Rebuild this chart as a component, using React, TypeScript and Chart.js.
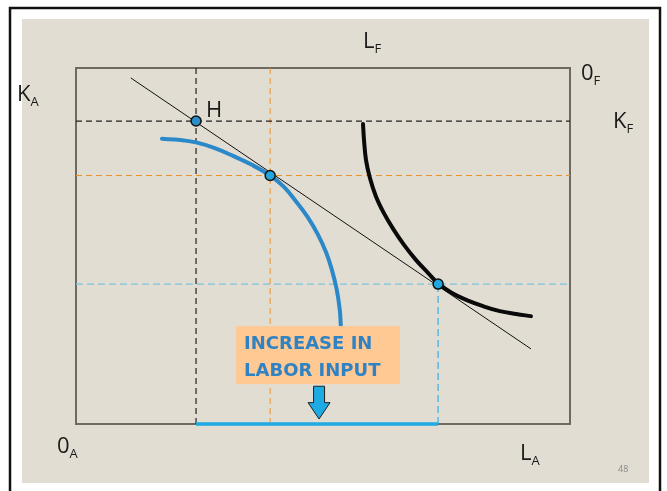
import React, { useEffect, useRef } from "react";
import { Chart, registerables } from "chart.js";

Chart.register(...registerables);

// ---- data (axis units 0..100) ----
const AXIS_MIN = 0;
const AXIS_MAX = 100;

const tangentX = [11.1, 92.1];
const tangentY = [97.2, 21.1];

const blueCurveX = [17.4, 21.1, 24.3, 28.1, 31.8, 35.6, 39.3, 42.1, 44.5, 46.9, 48.9, 50.6, 51.8, 52.8, 53.4, 53.6];
const blueCurveY = [80.1, 79.8, 79.1, 77.5, 75.3, 72.8, 69.8, 66.6, 62.6, 58.1, 53.4, 48.3, 43.3, 37.6, 32.0, 27.8];

const blackCurveX = [58.1, 58.3, 58.7, 59.5, 60.7, 62.3, 64.2, 66.4, 68.8, 71.3, 73.3, 76.1, 79.1, 82.4, 85.8, 89.1, 92.1];
const blackCurveY = [84.3, 79.8, 74.2, 69.1, 64.0, 59.3, 54.8, 50.3, 46.1, 42.4, 39.5, 36.8, 34.8, 33.1, 31.7, 30.9, 30.3];

const pointX = [24.3, 39.3, 73.3];
const pointY = [85.1, 69.8, 39.3];
const pointNames = ["H", "", ""];

const cornerMain = ["L", "0", "K", "K", "0", "L"];
const cornerSub = ["F", "F", "A", "F", "A", "A"];

const calloutLines = ["INCREASE IN", "LABOR INPUT"];
const pageNumber = "48";

// annotation anchors in axis units
const calloutBoxX = [32.4, 65.6];
const calloutBoxY = [27.5, 11.2];
const arrowX = [49.2];
const arrowY = [10.6, 1.4];

const pts = (xs: number[], ys: number[]) => xs.map((x, i) => ({ x, y: ys[i] }));

export default function App() {
  const ref = useRef<HTMLCanvasElement | null>(null);

  useEffect(() => {
    if (!ref.current) return;
    const FONT = '"Open Sans", "DejaVu Sans", sans-serif';

    const bgPlugin = {
      id: "bg",
      beforeDraw(chart: any) {
        const ctx = chart.ctx;
        ctx.save();
        ctx.fillStyle = "#ffffff";
        ctx.fillRect(0, 0, chart.width, chart.height);
        ctx.fillStyle = "#e2ddd2";
        ctx.fillRect(22, 19, 627, 464);
        ctx.strokeStyle = "#111111";
        ctx.lineWidth = 2.5;
        ctx.strokeRect(10, 8, 650, 490);
        ctx.restore();
      },
      beforeDatasetsDraw(chart: any) {
        const { ctx, chartArea: a } = chart;
        ctx.save();
        ctx.strokeStyle = "#6e6a63";
        ctx.lineWidth = 2;
        ctx.strokeRect(a.left, a.top, a.right - a.left, a.bottom - a.top);
        ctx.restore();
      },
      afterDraw(chart: any) {
        const { ctx, scales } = chart;
        const sx = scales.x, sy = scales.y;
        ctx.save();
        // corner labels
        const pos = [
          [363, 48],
          [581, 80],
          [17, 101],
          [613, 128],
          [57, 453],
          [520, 460],
        ];
        ctx.fillStyle = "#1a1a1a";
        ctx.textBaseline = "alphabetic";
        cornerMain.forEach((m, i) => {
          const [x, y] = pos[i];
          ctx.font = `22px ${FONT}`;
          ctx.fillText(m, x, y);
          const w = ctx.measureText(m).width;
          ctx.font = `13px ${FONT}`;
          ctx.fillText(cornerSub[i], x + w, y + 5);
        });
        // point names
        ctx.font = `22px ${FONT}`;
        pointNames.forEach((n, i) => {
          if (!n) return;
          ctx.fillText(n, sx.getPixelForValue(pointX[i]) + 10, sy.getPixelForValue(pointY[i]) - 4);
        });
        // page number
        ctx.fillStyle = "#8a8a8a";
        ctx.font = `9px ${FONT}`;
        ctx.fillText(pageNumber, 618, 472);

        // callout box
        const bx0 = sx.getPixelForValue(calloutBoxX[0]);
        const bx1 = sx.getPixelForValue(calloutBoxX[1]);
        const by0 = sy.getPixelForValue(calloutBoxY[0]);
        const by1 = sy.getPixelForValue(calloutBoxY[1]);
        ctx.fillStyle = "#ffc994";
        ctx.fillRect(bx0, by0, bx1 - bx0, by1 - by0);
        ctx.fillStyle = "#2f82c3";
        ctx.font = `bold 18px "DejaVu Sans", sans-serif`;
        ctx.fillText(calloutLines[0], bx0 + 8, by0 + 23);
        ctx.fillText(calloutLines[1], bx0 + 8, by0 + 50);

        // arrow
        const ax = sx.getPixelForValue(arrowX[0]);
        const ay0 = sy.getPixelForValue(arrowY[0]);
        const ay1 = sy.getPixelForValue(arrowY[1]);
        const shaftH = (ay1 - ay0) * 0.5;
        ctx.beginPath();
        ctx.moveTo(ax - 5.5, ay0);
        ctx.lineTo(ax + 5.5, ay0);
        ctx.lineTo(ax + 5.5, ay0 + shaftH);
        ctx.lineTo(ax + 11, ay0 + shaftH);
        ctx.lineTo(ax, ay1);
        ctx.lineTo(ax - 11, ay0 + shaftH);
        ctx.lineTo(ax - 5.5, ay0 + shaftH);
        ctx.closePath();
        ctx.fillStyle = "#1eaae3";
        ctx.fill();
        ctx.strokeStyle = "#222222";
        ctx.lineWidth = 1;
        ctx.stroke();
        ctx.restore();
      },
    };

    const line = (data: any[], color: string, width: number, dash: number[] = [], extra: any = {}) => ({
      type: "line" as const,
      data,
      borderColor: color,
      borderWidth: width,
      borderDash: dash,
      pointRadius: 0,
      fill: false,
      tension: 0,
      clip: false,
      ...extra,
    });

    const chart = new Chart(ref.current, {
      type: "scatter",
      data: {
        datasets: [
          {
            type: "scatter",
            data: pts(pointX, pointY),
            pointRadius: 5,
            pointBackgroundColor: ["#2a8fc9", "#22a6de", "#22a6de"],
            pointBorderColor: "#111111",
            pointBorderWidth: 1.5,
            clip: false,
            order: 0,
          } as any,
          line(pts(tangentX, tangentY), "#111111", 1, [], { order: 2 }),
          line(pts(blueCurveX, blueCurveY), "#2b88c9", 4, [], { tension: 0.4, borderCapStyle: "round", order: 3 }),
          line(pts(blackCurveX, blackCurveY), "#0a0a0a", 4, [], { tension: 0.4, borderCapStyle: "round", order: 3 }),
          line([{ x: pointX[0], y: AXIS_MIN }, { x: pointX[2], y: AXIS_MIN }], "#1eaae3", 3.5, [], { order: 1 }),
          line([{ x: AXIS_MIN, y: pointY[0] }, { x: AXIS_MAX, y: pointY[0] }], "#222222", 1.2, [6, 4], { order: 5 }),
          line([{ x: pointX[0], y: AXIS_MIN }, { x: pointX[0], y: AXIS_MAX }], "#222222", 1.2, [6, 4], { order: 5 }),
          line([{ x: AXIS_MIN, y: pointY[1] }, { x: AXIS_MAX, y: pointY[1] }], "#e8942a", 1, [6, 4], { order: 5 }),
          line([{ x: pointX[1], y: AXIS_MIN }, { x: pointX[1], y: AXIS_MAX }], "#e8942a", 1, [6, 4], { order: 5 }),
          line([{ x: AXIS_MIN, y: pointY[2] }, { x: AXIS_MAX, y: pointY[2] }], "#7fc4dc", 1.2, [7, 4], { order: 5 }),
          line([{ x: pointX[2], y: AXIS_MIN }, { x: pointX[2], y: pointY[2] }], "#3aaee2", 1.2, [7, 4], { order: 5 }),
        ],
      },
      options: {
        responsive: false,
        animation: false,
        devicePixelRatio: 1,
        layout: { padding: { left: 76, top: 68, right: 97, bottom: 67 } },
        plugins: { legend: { display: false }, tooltip: { enabled: false } },
        scales: {
          x: { type: "linear", min: AXIS_MIN, max: AXIS_MAX, display: false },
          y: { type: "linear", min: AXIS_MIN, max: AXIS_MAX, display: false },
        },
      },
      plugins: [bgPlugin],
    } as any);

    return () => chart.destroy();
  }, []);

  return (
    <div style={{ position: "absolute", left: 0, top: 0, width: 667, height: 491 }}>
      <canvas ref={ref} width={667} height={491} style={{ display: "block" }} />
    </div>
  );
}
